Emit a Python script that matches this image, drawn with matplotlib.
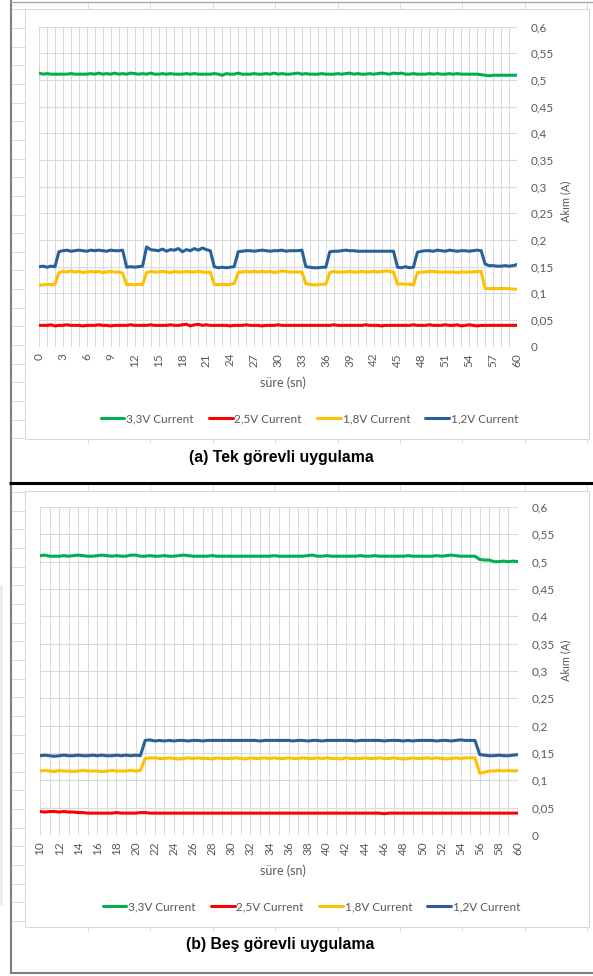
import matplotlib
matplotlib.use("Agg")
import matplotlib.pyplot as plt
from matplotlib.lines import Line2D
from matplotlib.patches import Rectangle
import numpy as np

plt.rcParams['font.family'] = ['Lato', 'DejaVu Sans']

# ---------------- data (currents in mA) ----------------
series_names = ["3,3V Current", "2,5V Current", "1,8V Current", "1,2V Current"]
series_colors = ["#00B050", "#FF0000", "#FFC000", "#2A6099"]

# (a) single-task run, samples every 0.5 s from 0 to 60 s
time_a = np.arange(0, 60.01, 0.5)
green_a = [513, 511, 512, 511, 511, 511, 511, 511, 512, 511,
           511, 511, 511, 512, 511, 513, 511, 512, 511, 513,
           511, 512, 511, 513, 512, 511, 512, 511, 513, 511,
           511, 512, 511, 512, 511, 511, 511, 512, 511, 512,
           511, 511, 511, 511, 512, 511, 509, 512, 511, 511,
           513, 511, 511, 511, 512, 511, 511, 512, 511, 513,
           511, 512, 511, 511, 512, 513, 511, 512, 511, 511,
           511, 512, 511, 511, 511, 512, 511, 512, 513, 511,
           512, 511, 511, 512, 511, 512, 513, 512, 511, 513,
           512, 513, 511, 511, 512, 511, 511, 511, 512, 511,
           512, 511, 511, 512, 511, 512, 511, 511, 511, 511,
           511, 510, 509, 508, 509, 509, 509, 509, 509, 509, 509]
red_a = [40, 40, 40, 41, 39, 40, 40, 41, 40, 40,
         40, 39, 40, 40, 40, 41, 40, 40, 39, 40,
         40, 40, 40, 41, 40, 40, 40, 40, 41, 40,
         40, 40, 40, 41, 40, 40, 41, 42, 39, 41,
         42, 40, 41, 40, 40, 40, 40, 40, 39, 40,
         40, 40, 41, 40, 40, 40, 39, 40, 40, 40,
         41, 40, 40, 40, 40, 40, 40, 40, 40, 40,
         40, 40, 40, 40, 41, 40, 40, 40, 40, 40,
         40, 40, 41, 40, 40, 40, 39, 40, 40, 40,
         40, 40, 40, 40, 41, 40, 40, 40, 41, 40,
         40, 40, 41, 40, 40, 41, 39, 40, 41, 40,
         39, 40, 40, 40, 40, 40, 40, 40, 40, 40, 40]
yellow_a = [115, 116, 117, 116, 117,
            139, 141, 140, 142, 140, 141, 139, 140, 141, 140, 141, 139, 140, 141, 140, 140, 138,
            116, 117, 116, 117, 116,
            139, 141, 140, 140, 141, 140, 139, 141, 140, 140, 141, 140, 140, 141, 140, 139, 140,
            117, 116, 117, 116, 117, 118,
            139, 140, 141, 140, 141, 140, 141, 140, 141, 139, 140, 142, 141, 140, 140, 140, 140,
            118, 117, 116, 116, 117, 117,
            139, 141, 140, 140, 140, 141, 140, 140, 141, 140, 140, 141, 140, 141, 142, 141, 140,
            117, 118, 117, 117, 116,
            139, 140, 140, 141, 141, 140, 140, 140, 140, 140, 139, 140, 140, 140, 140, 141, 141,
            109, 109, 109, 109, 109, 109, 109, 108, 108]
blue_a = [150, 151, 149, 151, 150,
          178, 180, 181, 179, 180, 181, 180, 179, 181, 180, 181, 180, 179, 181, 180, 180, 181,
          149, 150, 149, 150, 151,
          187, 182, 181, 180, 183, 179, 182, 181, 184, 178, 182, 180, 184, 181, 185, 182, 180,
          150, 148, 149, 148, 149, 150,
          178, 179, 180, 180, 179, 180, 181, 180, 179, 180, 180, 181, 179, 180, 180, 180, 181,
          150, 149, 148, 148, 149, 149,
          178, 179, 179, 180, 181, 180, 180, 179, 179, 179, 179, 179, 179, 179, 179, 179, 179,
          149, 148, 150, 148, 149,
          177, 179, 180, 180, 179, 181, 180, 179, 181, 180, 179, 180, 180, 179, 180, 181, 180,
          155, 152, 152, 151, 151, 152, 151, 152, 154]

# (b) five-task run, samples every 0.5 s from 10 to 60 s
time_b = np.arange(10, 60.01, 0.5)
green_b = [511, 512, 510, 510, 510, 511, 510, 511, 512, 511,
           510, 510, 511, 512, 511, 510, 511, 510, 510, 512,
           512, 510, 510, 511, 510, 510, 511, 510, 510, 511,
           512, 511, 510, 510, 510, 510, 511, 510, 510, 510,
           510, 510, 510, 510, 510, 510, 510, 510, 510, 511,
           510, 510, 510, 510, 510, 510, 511, 512, 510, 510,
           511, 510, 510, 510, 510, 510, 510, 511, 510, 510,
           511, 510, 510, 510, 510, 510, 510, 511, 510, 510,
           510, 510, 510, 511, 510, 511, 512, 511, 510, 510,
           510, 510, 504, 503, 503, 500, 500, 501, 500, 501, 500]
red_b = [43, 42, 43, 43, 42, 43, 42, 42, 41, 41,
         40, 40, 40, 40, 40, 40, 41, 40, 40, 40,
         40, 41, 41, 40, 40, 40, 40, 40, 40, 40,
         40, 40, 40, 40, 40, 40, 40, 40, 40, 40,
         40, 40, 40, 40, 40, 40, 40, 40, 40, 40,
         40, 40, 40, 40, 40, 40, 40, 40, 40, 40,
         40, 40, 40, 40, 40, 40, 40, 40, 40, 40,
         40, 40, 39, 40, 40, 40, 40, 40, 40, 40,
         40, 40, 40, 40, 40, 40, 40, 40, 40, 40,
         40, 40, 40, 40, 40, 40, 40, 40, 40, 40, 40]
yellow_b = [117, 118, 117, 116, 118, 117, 117, 116, 117, 118, 117,
            117, 117, 116, 117, 118, 117, 117, 117, 118, 117, 118,
            140, 141, 141, 140, 140, 141, 140, 139, 140, 141,
            140, 141, 140, 140, 139, 141, 140, 140, 140, 141,
            140, 139, 141, 140, 140, 141, 140, 141, 140, 140,
            141, 140, 140, 141, 140, 140, 141, 140, 141, 140,
            140, 139, 141, 140, 140, 140, 141, 140, 140, 141,
            140, 140, 141, 140, 139, 140, 141, 140, 140, 141,
            140, 141, 140, 139, 140, 141, 140, 141, 141, 141,
            113, 115, 117, 117, 118, 117, 118, 117, 118]
blue_b = [145, 146, 145, 144, 145, 146, 145, 145, 146, 145, 145,
          146, 145, 146, 145, 145, 146, 145, 146, 145, 146, 145,
          173, 174, 172, 173, 172, 173, 172, 173, 173, 172,
          173, 173, 172, 173, 173, 173, 173, 173, 173, 173,
          173, 173, 173, 173, 172, 173, 173, 173, 173, 173,
          173, 172, 173, 173, 172, 173, 173, 172, 173, 173,
          173, 173, 173, 173, 172, 173, 173, 173, 173, 173,
          172, 173, 173, 173, 172, 173, 172, 173, 173, 173,
          173, 172, 173, 173, 172, 173, 174, 173, 173, 173,
          147, 146, 145, 145, 146, 145, 145, 146, 147]

y_ticks = [0, 0.05, 0.1, 0.15, 0.2, 0.25, 0.3, 0.35, 0.4, 0.45, 0.5, 0.55, 0.6]
y_tick_labels = ["0", "0,05", "0,1", "0,15", "0,2", "0,25", "0,3", "0,35",
                 "0,4", "0,45", "0,5", "0,55", "0,6"]
x_label = "süre (sn)"
y_label = "Akım (A)"
captions = ["(a) Tek görevli uygulama", "(b) Beş görevli uygulama"]

# ---------------- figure ----------------
W, H = 593, 976
fig = plt.figure(figsize=(W / 100, H / 100), dpi=100)
fig.patch.set_facecolor("white")

def fx(x):
    return x / W

def fy(y):
    return 1 - y / H

def hline(y, x0, x1, color, lw, z=1):
    fig.add_artist(Line2D([fx(x0), fx(x1)], [fy(y), fy(y)], color=color, lw=lw,
                          transform=fig.transFigure, zorder=z, solid_capstyle="butt"))

def vline(x, y0, y1, color, lw, z=1):
    fig.add_artist(Line2D([fx(x), fx(x)], [fy(y0), fy(y1)], color=color, lw=lw,
                          transform=fig.transFigure, zorder=z, solid_capstyle="butt"))

sheet_grid = "#dadada"
col_x = [88 + 62.4 * k for k in range(9)]

# spreadsheet cell lines peeking around the two chart objects
for (top_y, bottom_y, rows_from) in [(9.3, 439.0, 438.3), (490.7, 927.3, 921.0)]:
    for x in col_x:
        vline(x, top_y - 7.5, top_y, sheet_grid, 0.7)
        vline(x, bottom_y, bottom_y + 3.5, sheet_grid, 0.7)
    yy = rows_from
    while yy > top_y - 1:
        hline(yy, 11, 24.6, sheet_grid, 0.7)
        yy -= 18.65
    # chart area outline
    fig.add_artist(Rectangle((fx(24.6), fy(bottom_y)), fx(589) - fx(24.6),
                             fy(top_y) - fy(bottom_y), transform=fig.transFigure,
                             fill=False, edgecolor="#d9d9d9", lw=0.75, zorder=1))

# page frame
vline(10.5, 0, 974, "#7f7f7f", 1.5, z=3)
hline(1.5, 10, 593, "#a6a6a6", 1.0, z=3)
hline(483.0, 9, 593, "#000000", 2.2, z=3)
hline(973.0, 10, 593, "#7f7f7f", 1.5, z=3)
fig.add_artist(Rectangle((0, fy(905)), fx(3), fy(585) - fy(905), transform=fig.transFigure,
                         facecolor="#ededed", edgecolor="none", zorder=0))

tick_color = "#595959"
grid_color = "#d9d9d9"

panels = [
    dict(rect=[fx(39), fy(346.7), fx(517) - fx(39), (346.7 - 26.7) / H],
         t=time_a, data=[green_a, red_a, yellow_a, blue_a], xlim=(0, 60), xstep=3,
         xlab_y=383, ylab_y=201, leg_y=419, leg_x=309.5, cap_y=458, cap_x=281),
    dict(rect=[fx(40), fy(835), fx(518) - fx(40), (835 - 507) / H],
         t=time_b, data=[green_b, red_b, yellow_b, blue_b], xlim=(10, 60), xstep=2,
         xlab_y=871, ylab_y=660, leg_y=907, leg_x=311.5, cap_y=944, cap_x=280),
]

for k, p in enumerate(panels):
    ax = fig.add_axes(p["rect"])
    ax.set_facecolor("none")
    handles = []
    for vals, name, col in zip(p["data"], series_names, series_colors):
        ln, = ax.plot(p["t"], np.array(vals) / 1000.0, color=col, lw=2.2,
                      solid_joinstyle="round", solid_capstyle="round", label=name, zorder=3)
        handles.append(ln)
    ax.set_xlim(*p["xlim"])
    ax.set_ylim(0, 0.6)
    ax.set_xticks(np.arange(p["xlim"][0], p["xlim"][1] + 0.1, p["xstep"]))
    ax.set_xticks(np.arange(p["xlim"][0], p["xlim"][1] + 0.1, 1), minor=True)
    ax.set_xticklabels([str(int(v)) for v in ax.get_xticks()], rotation=90)
    ax.set_yticks(y_ticks)
    ax.set_yticklabels(y_tick_labels)
    ax.yaxis.tick_right()
    ax.tick_params(axis="both", which="both", length=0, colors=tick_color, labelsize=8.5)
    ax.tick_params(axis="x", pad=4.5)
    ax.tick_params(axis="y", pad=10)
    for lab in ax.get_yticklabels():
        lab.set_horizontalalignment("left")
    ax.grid(True, which="both", color=grid_color, lw=0.75, zorder=0)
    for s in ax.spines.values():
        s.set_visible(False)

    fig.text(fx(283), fy(p["xlab_y"]), x_label, ha="center", va="center",
             fontsize=9, color=tick_color)
    fig.text(fx(566), fy(p["ylab_y"]), y_label, ha="center", va="center",
             rotation=90, fontsize=8, color=tick_color)
    leg = fig.legend(handles=handles, loc="center", ncol=4, frameon=False,
                     bbox_to_anchor=(fx(p["leg_x"]), fy(p["leg_y"])),
                     fontsize=8.5, handlelength=2.0, handletextpad=0.15,
                     columnspacing=1.3, borderaxespad=0)
    for txt in leg.get_texts():
        txt.set_color(tick_color)
    fig.text(fx(p["cap_x"]), fy(p["cap_y"]), captions[k], ha="center", va="center",
             fontsize=11.4, fontweight="bold", family="Liberation Sans", color="black")

fig.savefig("out.png", dpi=100, facecolor="white")
